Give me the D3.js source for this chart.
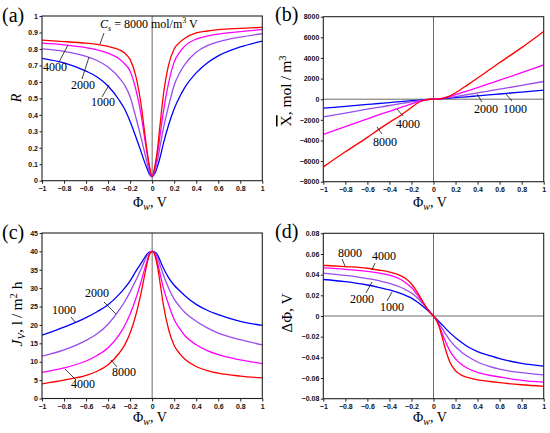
<!DOCTYPE html>
<html><head><meta charset="utf-8">
<script src="https://cdn.jsdelivr.net/npm/d3@7"></script>
<style>body{margin:0;background:#fff}svg{display:block}</style>
</head><body>
<svg id="chart" width="550" height="433"></svg>
<script>
// ---------- data ----------
const phi = [-1,-0.8,-0.6,-0.5,-0.4,-0.3,-0.25,-0.2,-0.15,-0.1,-0.075,-0.05,-0.025,0,0.025,0.05,0.075,0.1,0.15,0.2,0.25,0.3,0.4,0.5,0.6,0.8,1];
const concentrations = [1000, 2000, 4000, 8000];

// (a) rejection R
const R_1000 = [0.743,0.715,0.665,0.63,0.575,0.49,0.435,0.36,0.27,0.175,0.125,0.08,0.04,0.025,0.045,0.09,0.15,0.22,0.34,0.437,0.51,0.57,0.655,0.715,0.758,0.812,0.848];
const R_2000 = [0.80,0.785,0.755,0.73,0.69,0.625,0.58,0.51,0.39,0.26,0.19,0.12,0.055,0.025,0.06,0.13,0.22,0.31,0.455,0.58,0.655,0.71,0.78,0.82,0.843,0.872,0.893];
const R_4000 = [0.835,0.825,0.808,0.795,0.775,0.74,0.71,0.665,0.56,0.40,0.29,0.18,0.08,0.025,0.08,0.17,0.29,0.41,0.595,0.72,0.78,0.82,0.86,0.878,0.89,0.905,0.917];
const R_8000 = [0.853,0.845,0.835,0.828,0.815,0.795,0.775,0.735,0.64,0.46,0.33,0.20,0.09,0.025,0.09,0.20,0.36,0.51,0.705,0.80,0.84,0.866,0.897,0.909,0.917,0.925,0.931];

// (b) fixed charge X, mol/m3
const X_1000 = [-875,-690,-505,-415,-325,-235,-192,-150,-108,-68,-48,-28,-10,0,10,28,48,68,108,150,192,235,325,415,505,690,875];
const X_2000 = [-1715,-1340,-970,-790,-610,-430,-345,-260,-180,-105,-65,-32,-8,0,8,32,65,105,180,260,345,430,610,790,970,1340,1715];
const X_4000 = [-3400,-2650,-1900,-1530,-1170,-810,-640,-460,-290,-140,-80,-35,-8,0,8,35,80,140,280,440,610,780,1120,1480,1840,2580,3330];
const X_8000 = [-6570,-5100,-3700,-2950,-2250,-1580,-1200,-800,-420,-150,-70,-25,-5,0,5,25,60,120,330,620,960,1320,2050,2800,3550,5000,6570];

// (c) volume flux Jv, l/m2 h
const J_1000 = [17.2,19.4,22.0,23.6,25.5,28.3,30,32,34.5,36.8,38,39.1,39.8,40,39.8,39.0,37.3,35.6,32.8,30.8,29.3,27.9,25.6,24,22.8,21,19.9];
const J_2000 = [11.5,13.2,15.8,17.6,20.2,24.0,26.3,29,32,35.2,37,38.6,39.6,40,39.6,38.2,36.0,33.8,30,27,25,23.3,21,19.2,17.8,16,14.6];
const J_4000 = [7.1,8.3,10.2,11.7,13.8,17.3,19.8,23,27,31.8,34.5,37,39.3,40,39.3,36.8,33.5,30.3,25.5,21.5,19,17,14.6,13,11.9,10.5,9.5];
const J_8000 = [4.0,5.0,6.3,7.4,9.2,12.3,14.5,17.8,22.5,28.8,32.5,36.2,39.1,40,38.9,35.6,30.8,25.8,18.7,14.4,12.2,10.6,8.7,7.6,6.9,6.1,5.6];

// (d) potential drop, V
const D_1000 = [0.0353,0.0332,0.0300,0.0278,0.0252,0.0218,0.0197,0.0173,0.0138,0.0097,0.0074,0.005,0.0025,0,-0.0027,-0.0055,-0.0082,-0.011,-0.0163,-0.021,-0.0252,-0.029,-0.0345,-0.038,-0.0413,-0.0458,-0.0485];
const D_2000 = [0.0415,0.0392,0.0362,0.0342,0.0315,0.0278,0.0253,0.0222,0.0178,0.0122,0.0092,0.006,0.003,0,-0.0035,-0.0075,-0.0115,-0.0158,-0.0235,-0.0298,-0.0345,-0.0385,-0.0445,-0.0485,-0.0515,-0.0548,-0.057];
const D_4000 = [0.0465,0.0452,0.0432,0.0418,0.0395,0.0355,0.032,0.0275,0.021,0.0135,0.0097,0.0062,0.003,0,-0.0037,-0.009,-0.016,-0.0225,-0.034,-0.0415,-0.0465,-0.05,-0.0545,-0.0572,-0.059,-0.0622,-0.064];
const D_8000 = [0.049,0.0478,0.0462,0.0445,0.0425,0.039,0.036,0.031,0.0235,0.0145,0.010,0.006,0.0028,0,-0.004,-0.010,-0.019,-0.029,-0.045,-0.053,-0.057,-0.0592,-0.0618,-0.0632,-0.0645,-0.0665,-0.068];

// tick values
const xTicks = [-1,-0.8,-0.6,-0.4,-0.2,0,0.2,0.4,0.6,0.8,1];
const yTicksA = [0,0.1,0.2,0.3,0.4,0.5,0.6,0.7,0.8,0.9,1];
const yTicksB = [-8000,-6000,-4000,-2000,0,2000,4000,6000,8000];
const yTicksC = [0,5,10,15,20,25,30,35,40,45];
const yTicksD = [-0.08,-0.06,-0.04,-0.02,0,0.02,0.04,0.06,0.08];

// ---------- drawing ----------
const colors = {1000:"#0000ff", 2000:"#9a4cec", 4000:"#ff00ff", 8000:"#ff0000"};
const svg = d3.select("#chart");
const serif = "'Liberation Serif','DejaVu Serif',serif";
const sans = "'Liberation Sans',Arial,sans-serif";
const fmt = v => (v < 0 ? "\u2212" : "") + String(Math.abs(v));

function panel(cfg) {
  const x = d3.scaleLinear().domain([-1, 1]).range([cfg.x0, cfg.x1]);
  const y = d3.scaleLinear().domain(cfg.yDomain).range([cfg.y1, cfg.y0]);
  const g = svg.append("g");
  const clipId = "clip" + cfg.id;
  svg.append("clipPath").attr("id", clipId).append("rect")
    .attr("x", cfg.x0).attr("y", cfg.y0).attr("width", cfg.x1 - cfg.x0).attr("height", cfg.y1 - cfg.y0);

  // zero lines
  g.append("line").attr("x1", x(0)).attr("x2", x(0)).attr("y1", cfg.y0).attr("y2", cfg.y1)
    .attr("stroke", "#6a6a6a").attr("stroke-width", 1);
  if (cfg.hZero) {
    g.append("line").attr("x1", cfg.x0).attr("x2", cfg.x1).attr("y1", y(0)).attr("y2", y(0))
      .attr("stroke", "#6a6a6a").attr("stroke-width", 1);
  }

  // curves
  const line = d3.line().x((d, i) => x(phi[i])).y(d => y(d)).curve(d3.curveMonotoneX);
  const cg = g.append("g").attr("clip-path", `url(#${clipId})`);
  cfg.series.forEach(s => {
    cg.append("path").attr("d", line(s.values)).attr("fill", "none")
      .attr("stroke", colors[s.c]).attr("stroke-width", 1.3);
  });

  // axes
  const xa = g.append("g").attr("transform", `translate(0,${cfg.y1})`)
    .call(d3.axisBottom(x).tickValues(xTicks).tickFormat(fmt).tickSize(3).tickPadding(2.5));
  const ya = g.append("g").attr("transform", `translate(${cfg.x0},0)`)
    .call(d3.axisLeft(y).tickValues(cfg.yTicks).tickFormat(fmt).tickSize(2.5).tickPadding(1.5));
  [xa, ya].forEach(a => {
    a.select(".domain").remove();
    a.selectAll("text").attr("font-family", sans).attr("font-size", 7).attr("font-weight", "bold").attr("fill", "#111");
    a.selectAll("line").attr("stroke", "#222");
  });
  // frame
  g.append("rect").attr("x", cfg.x0).attr("y", cfg.y0).attr("width", cfg.x1 - cfg.x0).attr("height", cfg.y1 - cfg.y0)
    .attr("fill", "none").attr("stroke", "#222").attr("stroke-width", 1.1);

  // panel letter
  g.append("text").attr("x", cfg.letterX).attr("y", cfg.letterY).attr("font-family", serif)
    .attr("font-size", 20).text(cfg.letter);

  // x title
  const xt = g.append("text").attr("x", cfg.xTitle[0]).attr("y", cfg.xTitle[1]).attr("text-anchor", "middle")
    .attr("font-family", serif).attr("font-size", 14);
  xt.append("tspan").text("\u03A6");
  xt.append("tspan").attr("font-style", "italic").attr("font-size", 10).attr("dy", 2.5).text("w");
  xt.append("tspan").attr("dy", -2.5).text(", V");

  // y title
  const yt = g.append("text").attr("transform", `translate(${cfg.yTitle[0]},${cfg.yTitle[1]}) rotate(-90)`)
    .attr("text-anchor", "middle").attr("font-family", serif).attr("font-size", cfg.yTitleSize || 14);
  cfg.yTitleFn(yt);

  // annotations
  cfg.labels.forEach(l => {
    g.append("line").attr("x1", l.l[0]).attr("y1", l.l[1]).attr("x2", l.l[2]).attr("y2", l.l[3])
      .attr("stroke", "#111").attr("stroke-width", 0.8);
    const t = g.append("text").attr("x", l.x).attr("y", l.y).attr("font-family", serif).attr("font-size", 12);
    if (l.rich) l.rich(t); else t.text(l.t);
  });
}

panel({
  id: "a", x0: 42, x1: 262.3, y0: 16, y1: 180.7, yDomain: [0, 1], yTicks: yTicksA,
  series: [{c:1000, values:R_1000},{c:2000, values:R_2000},{c:4000, values:R_4000},{c:8000, values:R_8000}],
  letter: "(a)", letterX: 2, letterY: 22, xTitle: [150, 207], yTitle: [21, 98],
  yTitleFn: t => t.append("tspan").attr("font-style", "italic").text("R"),
  labels: [
    {x: 100, y: 28, l: [104, 33, 100, 44], rich: t => {
      t.append("tspan").attr("font-style", "italic").text("C");
      t.append("tspan").attr("font-style", "italic").attr("font-size", 8).attr("dy", 2.5).text("s");
      t.append("tspan").attr("dy", -2.5).text(" = 8000 mol/m");
      t.append("tspan").attr("font-size", 8).attr("dy", -5).text("3");
      t.append("tspan").attr("dy", 5).text(" V");
    }},
    {x: 43, y: 71, t: "4000", l: [59, 62, 68, 45]},
    {x: 71, y: 89, t: "2000", l: [82, 79, 89, 57]},
    {x: 91, y: 106, t: "1000", l: [102, 97, 109, 85]}
  ]
});

panel({
  id: "b", x0: 323.3, x1: 543.7, y0: 16.7, y1: 181.7, yDomain: [-8000, 8000], yTicks: yTicksB, hZero: true,
  series: [{c:1000, values:X_1000},{c:2000, values:X_2000},{c:4000, values:X_4000},{c:8000, values:X_8000}],
  letter: "(b)", letterX: 275, letterY: 21, xTitle: [430, 207], yTitle: [291, 91], yTitleSize: 15.5,
  yTitleFn: t => {
    t.append("tspan").attr("text-decoration", "overline").text("X");
    t.append("tspan").text(", mol\u2009/\u2009m");
    t.append("tspan").attr("font-size", 10.5).attr("dy", -5).text("3");
  },
  labels: [
    {x: 474, y: 113, t: "2000", l: [482, 102, 477, 94]},
    {x: 503, y: 113, t: "1000", l: [512, 101, 505, 93]},
    {x: 396, y: 128, t: "4000", l: [403, 116, 397, 109]},
    {x: 373, y: 146, t: "8000", l: [382, 134, 377, 127]}
  ]
});

panel({
  id: "c", x0: 42, x1: 262.3, y0: 233, y1: 398.5, yDomain: [0, 45], yTicks: yTicksC,
  series: [{c:1000, values:J_1000},{c:2000, values:J_2000},{c:4000, values:J_4000},{c:8000, values:J_8000}],
  letter: "(c)", letterX: 2, letterY: 239, xTitle: [150, 422], yTitle: [22, 314], yTitleSize: 15.5,
  yTitleFn: t => {
    t.append("tspan").attr("font-style", "italic").text("J");
    t.append("tspan").attr("font-style", "italic").attr("font-size", 10.5).attr("dy", 2.5).text("V");
    t.append("tspan").attr("dy", -2.5).text(", l\u2009/\u2009m");
    t.append("tspan").attr("font-size", 10.5).attr("dy", -5).text("2");
    t.append("tspan").attr("dy", 5).text(" h");
  },
  labels: [
    {x: 52, y: 314, t: "1000", l: [71, 317, 75, 322]},
    {x: 85, y: 297, t: "2000", l: [104, 302, 116, 314]},
    {x: 71, y: 388, t: "4000", l: [76, 380, 65, 369]},
    {x: 112, y: 376, t: "8000", l: [117, 367, 111, 360]}
  ]
});

panel({
  id: "d", x0: 323.3, x1: 543.7, y0: 233.3, y1: 398.7, yDomain: [-0.08, 0.08], yTicks: yTicksD, hZero: true,
  series: [{c:1000, values:D_1000},{c:2000, values:D_2000},{c:4000, values:D_4000},{c:8000, values:D_8000}],
  letter: "(d)", letterX: 275, letterY: 238, xTitle: [430, 422], yTitle: [292, 313], yTitleSize: 15,
  yTitleFn: t => t.append("tspan").text("\u0394\u03A6, V"),
  labels: [
    {x: 338, y: 257, t: "8000", l: [342, 259, 345, 266]},
    {x: 372, y: 260, t: "4000", l: [375, 263, 372, 270]},
    {x: 350, y: 303, t: "2000", l: [366, 293, 372, 282]},
    {x: 380, y: 311, t: "1000", l: [387, 301, 392, 292]}
  ]
});
</script>
</body></html>
